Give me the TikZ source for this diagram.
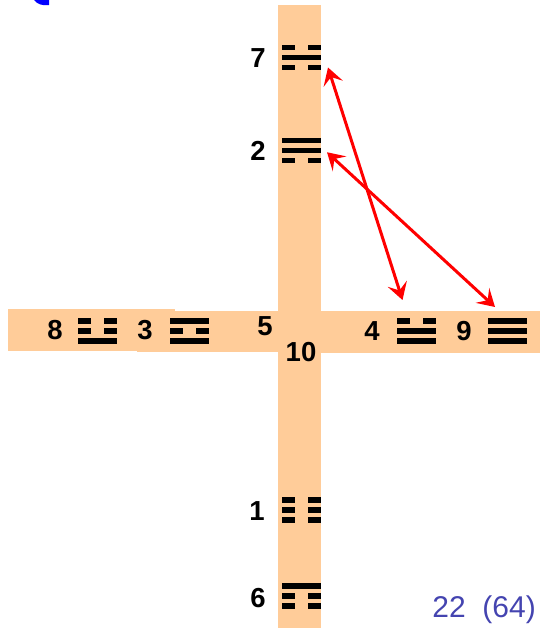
\documentclass[tikz,border=0pt]{standalone}
\usepackage{fontspec}
\setmainfont{Liberation Sans}
\usetikzlibrary{arrows.meta,calc}
\definecolor{peach}{RGB}{255,204,153}
\definecolor{numblue}{RGB}{68,68,176}
\newcommand\triline[2]{%
  \ifnum#2=1
    \fill (0,#1*10) rectangle (39,#1*10+5.5);
  \else
    \fill (0,#1*10) rectangle (13,#1*10+5.5);
    \fill (26,#1*10) rectangle (39,#1*10+5.5);
  \fi}
\newcommand\trigram[6]{%
  \node[tri] (#1) at (#2,#3) {};
  \begin{scope}[shift={(#1.north west)}]
    \triline{0}{#4}\triline{1}{#5}\triline{2}{#6}
  \end{scope}}
\begin{document}
\begin{tikzpicture}[x=1pt,y=-1pt,
  tri/.style={minimum width=39pt,minimum height=25.5pt,inner sep=0pt,outer sep=0pt},
  num/.style={font=\fontsize{27.5}{27.5}\selectfont\bfseries,inner sep=0pt},
  band/.style={fill=peach},
  redarr/.style={red,line width=3pt,{Stealth[length=17pt,width=20pt,inset=7pt]}-{Stealth[length=17pt,width=20pt,inset=7pt]}}]
\useasboundingbox (0,0) rectangle (540,628);
% bands
\fill[band] (278,5) rectangle (321,628);
\fill[band] (8,309) rectangle (175,351);
\fill[band] (137,311) rectangle (279,352);
\fill[band] (320,311) rectangle (540,353);
% blue mark
\fill[blue] (34,0) .. controls (37,4) and (42,6) .. (49,5) -- (49,0) -- cycle;
% trigrams
\trigram{t7}{301.5}{57.75}{0}{1}{0}
\trigram{t2}{301.5}{150.75}{1}{1}{0}
\trigram{t8}{97.5}{330.75}{0}{0}{1}
\trigram{t3}{189}{330.75}{1}{0}{1}
\trigram{t4}{416}{330.75}{0}{1}{1}
\trigram{t9}{507.5}{330.75}{1}{1}{1}
\trigram{t1}{301.5}{509.75}{0}{0}{0}
\trigram{t6}{301.5}{595.75}{1}{0}{0}
% labels
\node[num] (n7) at (258,58) {7};
\node[num] (n2) at (258,151) {2};
\node[num] (n8) at (55,330) {8};
\node[num] (n3) at (145,330) {3};
\node[num] (n5) at (265,326) {5};
\node[num] (n10) at (301,352) {10};
\node[num] (n4) at (372,331) {4};
\node[num] (n9) at (464,331) {9};
\node[num] (n1) at (257,511) {1};
\node[num] (n6) at (258,598) {6};
\node[font=\fontsize{30}{30}\selectfont,text=numblue,inner sep=0pt,anchor=east] (cnt) at (536,610) {22~~(64)};
% arrows
\draw[redarr] ($(t7.south east)+(7,-3)$) -- ($(t4.north west)+(6,-18)$);
\draw[redarr] ($(t2.east)+(6,1.5)$) -- ($(t9.north west)+(7,-11)$);
\end{tikzpicture}
\end{document}
